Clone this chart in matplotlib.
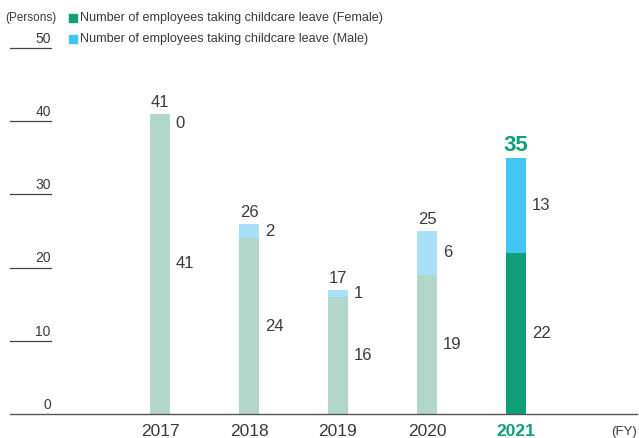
import matplotlib
matplotlib.use("Agg")
import matplotlib.pyplot as plt

plt.rcParams['font.family'] = ['Liberation Sans', 'DejaVu Sans']

# data
years = ["2017", "2018", "2019", "2020", "2021"]
female = [41, 24, 16, 19, 22]
male = [0, 2, 1, 6, 13]
totals = [41, 26, 17, 25, 35]
yticks = [0, 10, 20, 30, 40, 50]

fem_colors = ["#b2d6ca"] * 4 + ["#0e9e78"]
male_colors = ["#a9e0f8"] * 4 + ["#41c5f3"]
txt = "#3a3a3a"
green = "#0e9e78"

fig = plt.figure(figsize=(6.39, 4.38), dpi=100)
# axes: x 10..637 px, y 48..414 px
ax = fig.add_axes([10 / 639, (438 - 414) / 438, 627 / 639, 366 / 438])

x = list(range(len(years)))
w = 0.215
ax.bar(x, female, width=w, color=fem_colors)
ax.bar(x, male, width=w, bottom=female, color=male_colors)

ax.set_xlim(-1.685, 5.36)
ax.set_ylim(0, 50)

for s in ["top", "right", "left"]:
    ax.spines[s].set_visible(False)
ax.spines["bottom"].set_color("#555555")
ax.spines["bottom"].set_linewidth(1.0)
ax.set_xticks([])
ax.set_yticks([])

# y ticks as short lines with labels above
tr = ax.get_yaxis_transform()
for t in yticks:
    if t > 0:
        ax.plot([0, 0.066], [t, t], color="#444444", lw=0.9, transform=tr, clip_on=False)
    ax.text(0.065, t + 1.25, str(t), transform=tr, ha="right", va="center",
            fontsize=10, color=txt)

# segment labels and totals
for i in range(len(years)):
    fy = female[i] / 2
    my = female[i] + male[i] / 2
    if male[i] == 0:
        my = female[i] - 1.3
    ax.text(i + w / 2 + 0.07, fy, str(female[i]), ha="left", va="center",
            fontsize=12, color=txt)
    ax.text(i + w / 2 + 0.07, my, str(male[i]), ha="left", va="center",
            fontsize=12, color=txt)
    if i == len(years) - 1:
        ax.text(i, totals[i] + 0.2, str(totals[i]), ha="center", va="bottom",
                fontsize=16, fontweight="bold", color=green)
    else:
        ax.text(i, totals[i] + 0.55, str(totals[i]), ha="center", va="bottom",
                fontsize=12, color=txt)

# year labels
for i, yr in enumerate(years):
    if i == len(years) - 1:
        ax.text(i, -2.45, yr, ha="center", va="center", fontsize=12.5,
                fontweight="bold", color=green)
    else:
        ax.text(i, -2.45, yr, ha="center", va="center", fontsize=12.5, color=txt)
ax.text(1.0, -2.45, "(FY)", transform=ax.get_yaxis_transform(), ha="right", va="center",
        fontsize=9.5, color=txt)

# header and legend
fig.text(5 / 639, 1 - 18 / 438, "(Persons)", ha="left", va="center", fontsize=8.5, color=txt)
fig.patches.append(plt.Rectangle((69 / 639, 1 - 22 / 438), 8 / 639, 8 / 438,
                                 color="#0e9e78", transform=fig.transFigure))
fig.patches.append(plt.Rectangle((69 / 639, 1 - 43 / 438), 8 / 639, 8 / 438,
                                 color="#41c5f3", transform=fig.transFigure))
fig.text(80 / 639, 1 - 18 / 438, "Number of employees taking childcare leave (Female)",
         ha="left", va="center", fontsize=9.1, color=txt)
fig.text(80 / 639, 1 - 39 / 438, "Number of employees taking childcare leave (Male)",
         ha="left", va="center", fontsize=9.1, color=txt)

fig.savefig("out.png", dpi=100)
